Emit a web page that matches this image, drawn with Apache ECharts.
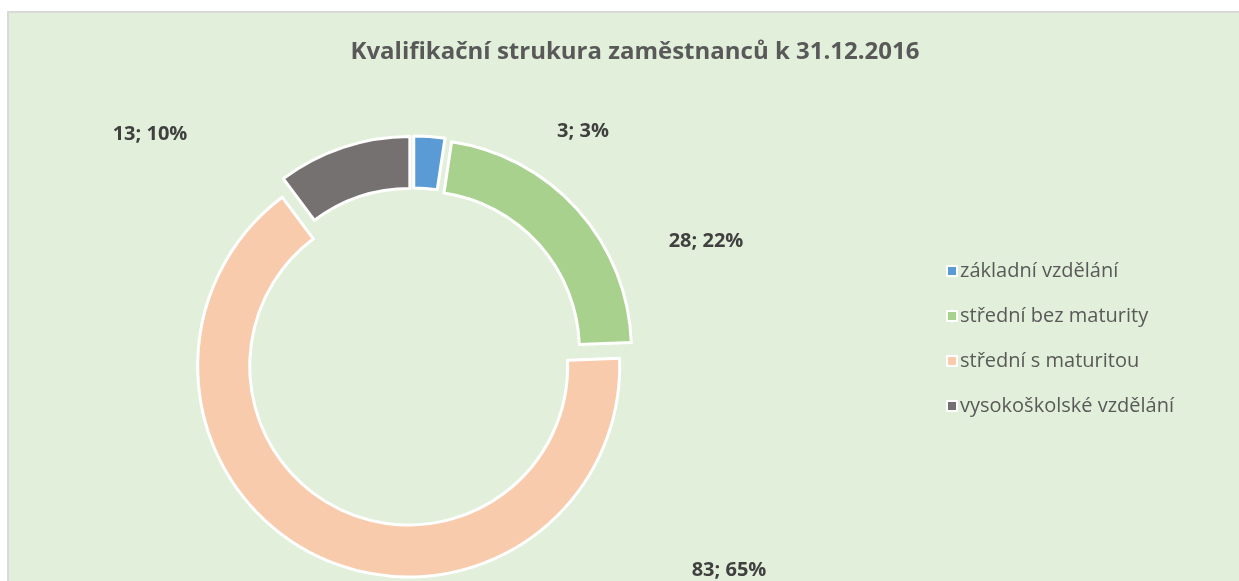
<!DOCTYPE html>
<html>
<head>
<meta charset="utf-8">
<script src="https://cdn.jsdelivr.net/npm/echarts@6/dist/echarts.min.js"></script>
<style>
  html, body { margin: 0; padding: 0; background: #fff; }
  #chart { width: 1239px; height: 581px; }
</style>
</head>
<body>
<div id="chart"></div>
<script>
const categories = ["základní vzdělání", "střední bez maturity", "střední s maturitou", "vysokoškolské vzdělání"];
const counts = [3, 28, 83, 13];
const percents = [3, 22, 65, 10];
const colors = ["#5b9bd5", "#a9d18e", "#f8cbad", "#767171"];
// label centres (Excel placed them by hand)
const labelPos = [[583, 131], [706, 241], [729, 570], [150, 134]];
const explode = 10;

const chart = echarts.init(document.getElementById("chart"));

const total = counts.reduce((a, b) => a + b, 0);

// selected offset of each slice, the label rect we get is before it
const shifts = [];
let acc = 0;
counts.forEach(v => {
  const a = (2 * Math.PI * (acc + v / 2)) / total;
  shifts.push([explode * Math.sin(a), -explode * Math.cos(a)]);
  acc += v;
});

const data = categories.map((name, i) => {
  return {
    name: name,
    value: counts[i],
    selected: true,
    itemStyle: { color: colors[i] }
  };
});

chart.setOption({
  backgroundColor: "#fff",
  animation: false,
  graphic: [
    {
      type: "rect",
      z: -10,
      shape: { x: 8, y: 12, width: 1240, height: 600 },
      style: { fill: "#e2efda", stroke: "#d9d9d9", lineWidth: 2 }
    }
  ],
  title: {
    text: "Kvalifikační strukura zaměstnanců k 31.12.2016",
    left: 630,
    top: 35,
    textAlign: "center",
    textStyle: {
      fontFamily: "Open Sans",
      fontWeight: "bold",
      fontSize: 24,
      color: "#595959"
    }
  },
  legend: {
    orient: "vertical",
    left: 941,
    top: 256,
    itemWidth: 10,
    itemHeight: 10,
    itemGap: 25,
    icon: "rect",
    itemStyle: { borderColor: "#fff", borderWidth: 2 },
    textStyle: {
      fontFamily: "Open Sans",
      fontSize: 20,
      color: "#595959",
      padding: [0, 0, 0, -2]
    },
    data: categories
  },
  series: [
    {
      type: "pie",
      center: [413, 357],
      radius: [159, 211],
      startAngle: 90,
      selectedMode: "multiple",
      selectedOffset: explode,
      avoidLabelOverlap: false,
      itemStyle: { borderColor: "#fff", borderWidth: 3 },
      emphasis: { disabled: true },
      labelLine: { show: false },
      label: {
        show: true,
        position: "inside",
        fontFamily: "Open Sans",
        fontWeight: "bold",
        fontSize: 20,
        color: "#404040",
        formatter: p => counts[p.dataIndex] + "; " + percents[p.dataIndex] + "%"
      },
      labelLayout: p => {
        const r = p.labelRect;
        const i = p.dataIndex;
        return {
          dx: labelPos[i][0] - (r.x + r.width / 2) - shifts[i][0],
          dy: labelPos[i][1] - (r.y + r.height / 2) - shifts[i][1]
        };
      },
      data: data
    }
  ]
});
</script>
</body>
</html>
